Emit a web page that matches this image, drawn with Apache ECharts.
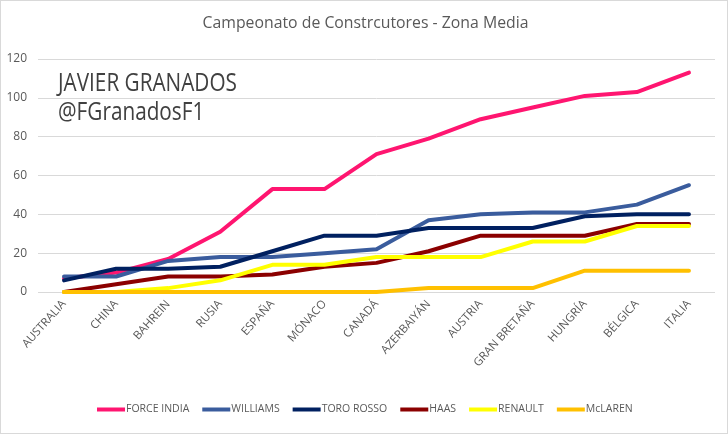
<!DOCTYPE html>
<html><head><meta charset="utf-8">
<script src="https://cdn.jsdelivr.net/npm/echarts@6/dist/echarts.min.js"></script>
<style>html,body{margin:0;padding:0;background:#fff}#c{width:728px;height:434px;box-sizing:border-box;border:1px solid #d9d9d9}</style>
</head><body><div id="c"></div>
<script>
const categories = ["AUSTRALIA","CHINA","BAHREIN","RUSIA","ESPAÑA","MÓNACO","CANADÁ","AZERBAIYÁN","AUSTRIA","GRAN BRETAÑA","HUNGRÍA","BÉLGICA","ITALIA"];
const forceIndia = [7,10,17,31,53,53,71,79,89,95,101,103,113];
const williams   = [8,8,16,18,18,20,22,37,40,41,41,45,55];
const toroRosso  = [6,12,12,13,21,29,29,33,33,33,39,40,40];
const haas       = [0,4,8,8,9,13,15,21,29,29,29,35,35];
const renault    = [0,0,2,6,14,14,18,18,18,26,26,34,34];
const mclaren    = [0,0,0,0,0,0,0,2,2,2,11,11,11];
const seriesNames = ["FORCE INDIA","WILLIAMS","TORO ROSSO","HAAS","RENAULT","McLAREN"];
const seriesData = [forceIndia, williams, toroRosso, haas, renault, mclaren];
const colors = ["#ff1570","#3a5c9d","#002060","#8b0000","#ffff00","#ffc000"];
const yTicks = [0,20,40,60,80,100,120];
const titleText = "Campeonato de Constrcutores - Zona Media";
const watermark = ["JAVIER GRANADOS","@FGranadosF1"];

const FONT = "'Open Sans',sans-serif";
const chart = echarts.init(document.getElementById('c'), null, {renderer:'canvas'});
chart.setOption({
  animation:false,
  graphic:[
    {type:'text',x:364.5,y:22,scaleX:0.93,style:{text:titleText,font:"17px "+FONT,fill:'#595959',align:'center',verticalAlign:'middle'}},
    {type:'text',x:57,y:83,scaleX:0.83,style:{text:watermark[0],font:"25px "+FONT,fill:'#404040',align:'left',verticalAlign:'middle'}},
    {type:'text',x:57,y:112,scaleX:0.83,style:{text:watermark[1],font:"25px "+FONT,fill:'#404040',align:'left',verticalAlign:'middle'}}
  ],
  grid:{left:37,right:12,top:58,bottom:141},
  legend:{top:403,left:96,padding:0,itemWidth:28,itemHeight:4,icon:'rect',itemGap:13,
    textStyle:{fontFamily:FONT,fontSize:10.5,color:'#595959',padding:[0,0,0,-4]},
    data:seriesNames},
  xAxis:{type:'category',data:categories,boundaryGap:true,
    axisLine:{show:false},axisTick:{show:false},
    axisLabel:{rotate:48,interval:0,fontFamily:FONT,fontSize:11.5,color:'#595959',margin:10}},
  yAxis:{type:'value',min:0,max:120,interval:20,
    axisLabel:{fontFamily:FONT,fontSize:12,color:'#595959',margin:11,
      formatter:v=>yTicks.includes(v)?String(v):''},
    splitLine:{lineStyle:{color:'#d9d9d9',width:1}}},
  series:seriesNames.map((n,i)=>({name:n,type:'line',data:seriesData[i],symbol:'none',
    lineStyle:{color:colors[i],width:4,cap:'round',join:'round'},itemStyle:{color:colors[i]}}))
});
</script></body></html>
